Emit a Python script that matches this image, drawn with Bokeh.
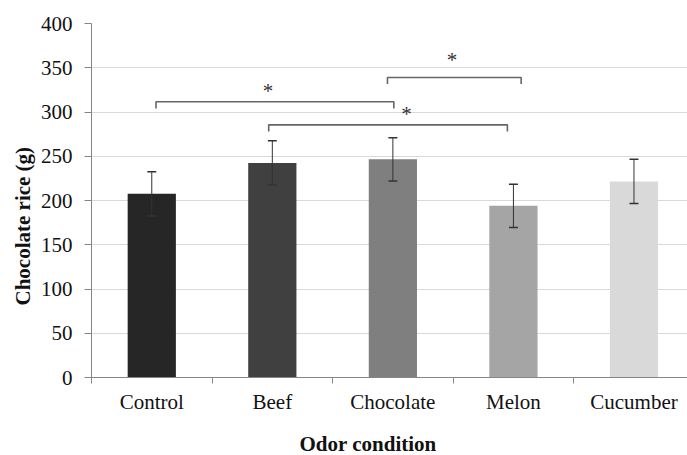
from bokeh.plotting import figure
from bokeh.models import (ColumnDataSource, Range1d, FixedTicker, Whisker, TeeHead, Title,
                          LinearAxis)
from bokeh.core.properties import value
from bokeh.embed import file_html
from bokeh.resources import INLINE

# ---- data ----
categories = ["Control", "Beef", "Chocolate", "Melon", "Cucumber"]
means = [207.5, 242.5, 246.5, 194.0, 221.5]
errors = [25.0, 25.0, 24.5, 24.5, 25.0]
bar_colors = ["#262626", "#404040", "#7f7f7f", "#a5a5a5", "#d9d9d9"]
y_ticks = [0, 50, 100, 150, 200, 250, 300, 350, 400]

# significance brackets (x in category index units, y in grams)
bracket_start = [0.035, 0.97, 1.955]
bracket_end = [2.008, 2.95, 3.064]
bracket_level = [311.5, 285.5, 339.0]
bracket_drop = 7.5
star_x = [0.964, 2.112, 2.491]
star_y = [324.0, 298.0, 359.0]
star_text = ["*", "*", "*"]

y_title = "Chocolate rice (g)"
x_title = "Odor condition"

FONT = "Liberation Serif"

xs_idx = list(range(len(categories)))
src = ColumnDataSource(dict(
    x=xs_idx, top=means, color=bar_colors,
    upper=[m + e for m, e in zip(means, errors)],
    lower=[m - e for m, e in zip(means, errors)],
))

p = figure(width=687, height=455, output_backend="svg", toolbar_location=None,
           x_range=Range1d(-0.5, 4.444), y_range=Range1d(0, 400),
           min_border_left=91, min_border_right=0, min_border_top=23,
           min_border_bottom=78)
p.outline_line_color = None
p.background_fill_color = "white"
p.border_fill_color = "white"

p.vbar(x="x", top="top", width=0.4, color="color", line_color=None, source=src)

w = Whisker(source=src, base="x", upper="upper", lower="lower",
            line_color="#333333", line_width=1, level="overlay",
            upper_head=TeeHead(size=9, line_color="#333333", line_width=1.5),
            lower_head=TeeHead(size=9, line_color="#333333", line_width=1.5))
p.add_layout(w)

# brackets
bx = [[a, a, b, b] for a, b in zip(bracket_start, bracket_end)]
by = [[y - bracket_drop, y, y, y - bracket_drop] for y in bracket_level]
p.multi_line(xs=bx, ys=by, line_color="#666666", line_width=1.6)

p.text(x=star_x, y=star_y, text=star_text, text_font=value(FONT),
       text_font_size="21px", text_align="center", text_baseline="middle",
       text_color="#333333")

# axes
xa = p.xaxis[0]
xa.ticker = FixedTicker(ticks=xs_idx, minor_ticks=[i - 0.5 for i in xs_idx])
xa.major_label_overrides = {i: c for i, c in enumerate(categories)}
xa.major_tick_out = 0
xa.major_tick_in = 0
xa.minor_tick_out = 6
xa.minor_tick_in = 0
xa.minor_tick_line_color = "#868686"
xa.axis_line_color = "#868686"
xa.major_label_text_font = FONT
xa.major_label_text_font_size = "21px"
xa.major_label_text_color = "#111111"
xa.major_label_standoff = 6

ya = p.yaxis[0]
ya.ticker = FixedTicker(ticks=y_ticks)
ya.major_tick_out = 7
ya.major_tick_in = 0
ya.minor_tick_line_color = None
ya.major_tick_line_color = "#868686"
ya.axis_line_color = "#868686"
ya.major_label_text_font = FONT
ya.major_label_text_font_size = "21px"
ya.major_label_text_color = "#111111"
ya.major_label_standoff = 12

p.xgrid.grid_line_color = None
p.ygrid.grid_line_color = "#d9d9d9"
p.ygrid.grid_line_width = 1

# blank spacer axis between the tick labels and the x title
spacer = LinearAxis(ticker=FixedTicker(ticks=[0]), axis_line_color=None,
                    major_tick_out=13, major_tick_in=0, major_tick_line_color=None,
                    minor_tick_line_color=None, major_label_standoff=0,
                    major_label_text_font_size="1px", major_label_text_alpha=0,
                    major_label_overrides={0: " "})
p.add_layout(spacer, "below")

# axis titles (as titles so they can be offset along the axis)
p.add_layout(Title(text=y_title, align="left", offset=72,
                   text_font=FONT, text_font_size="21px", text_font_style="bold",
                   text_color="#111111", standoff=6), "left")
p.add_layout(Title(text=x_title, align="left", offset=208,
                   text_font=FONT, text_font_size="21px", text_font_style="bold",
                   text_color="#111111", standoff=0), "below")

open("out.html", "w").write(file_html(p, INLINE))
